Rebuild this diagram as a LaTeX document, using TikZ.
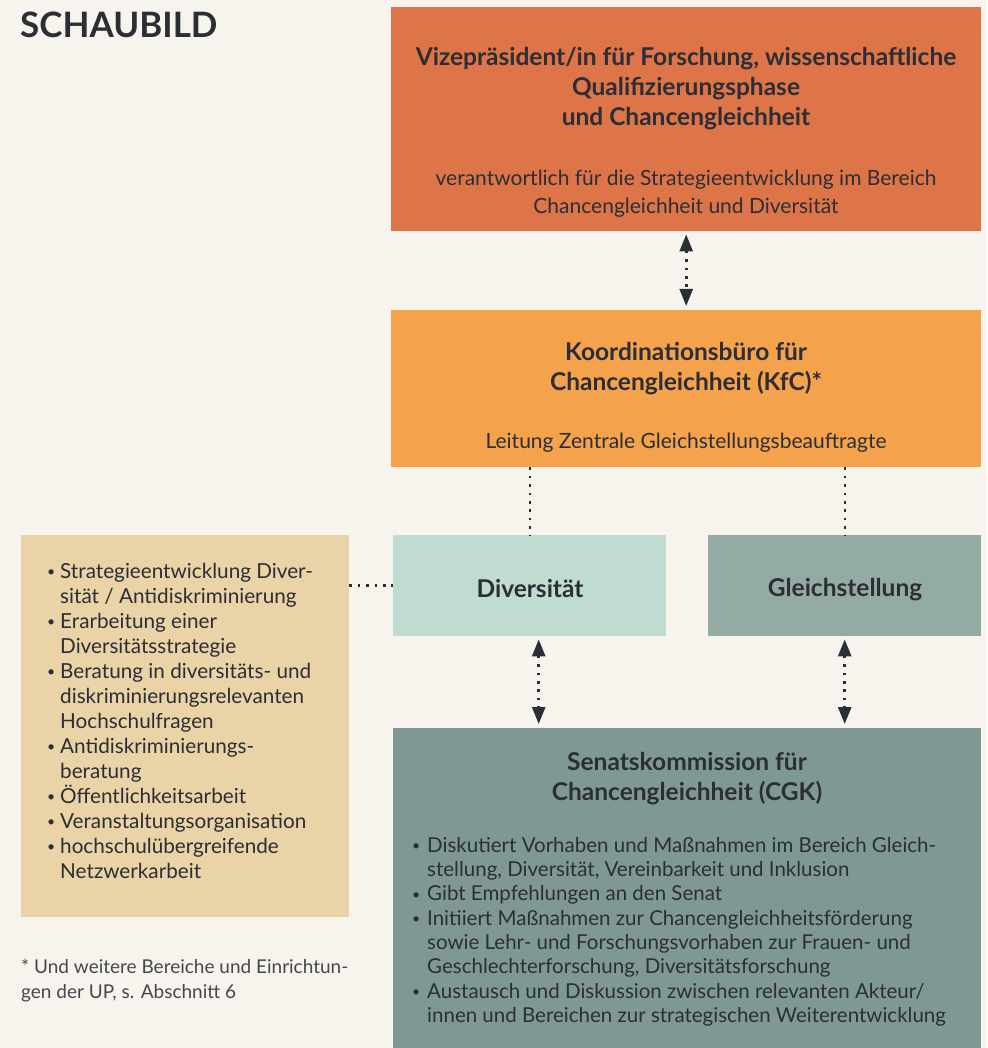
\documentclass[tikz,border=0pt]{standalone}
\usepackage{fontspec}
\setmainfont{Lato}
\usetikzlibrary{arrows.meta}
\definecolor{bg}{HTML}{F7F4EE}
\definecolor{vizec}{HTML}{DE7549}
\definecolor{kfcc}{HTML}{F4A24B}
\definecolor{divc}{HTML}{C0DCD1}
\definecolor{gleichc}{HTML}{94ABA4}
\definecolor{leftc}{HTML}{EAD3A6}
\definecolor{senatc}{HTML}{7F9893}
\definecolor{ink}{HTML}{2B2E35}
\definecolor{footc}{HTML}{45474C}
\newcommand{\smbul}{\raisebox{1.5pt}{\fontsize{14}{14}\selectfont\textbullet}}
\newcommand{\bul}{\makebox[13pt][l]{\smbul}}
\newcommand{\ind}{\hspace*{13pt}}
\newcommand{\sbul}{\makebox[15pt][l]{\smbul}}
\newcommand{\sind}{\hspace*{15pt}}
\tikzset{
  box/.style={draw=none, anchor=north west, inner sep=0pt},
  ttl/.style={text=ink, align=center, inner sep=0pt, font=\bfseries\fontsize{24.5}{30}\selectfont},
  sub/.style={text=ink, align=center, inner sep=0pt, font=\fontsize{21}{28}\selectfont},
  lst/.style={text=ink, align=left, anchor=north west, inner sep=0pt, font=\fontsize{20.7}{25}\selectfont},
  dotline/.style={ink, line width=2.6pt, dash pattern=on 2.6pt off 5.8pt},
  dotarrow/.style={ink, line width=2.6pt, dash pattern=on 2.6pt off 5.8pt,
     {Triangle[width=13pt,length=17pt]}-{Triangle[width=13pt,length=17pt]}, shorten <=3pt, shorten >=4pt}
}
\begin{document}
\begin{tikzpicture}[x=1pt,y=-1pt]
\path[fill=bg] (0,0) rectangle (987,1048);
\useasboundingbox (0,0) rectangle (987,1048);

% title
\node[anchor=west, inner sep=0pt, text=ink, font=\bfseries\fontsize{35}{38}\selectfont] (title) at (20,25) {SCHAUBILD};

% boxes
\node[box, fill=vizec, minimum width=590pt, minimum height=224pt] (vize) at (391,7) {};
\node[box, fill=kfcc, minimum width=590pt, minimum height=157pt] (kfc) at (391,310) {};
\node[box, fill=divc, minimum width=273pt, minimum height=101pt] (div) at (393,535) {};
\node[box, fill=gleichc, minimum width=273pt, minimum height=101pt] (gleich) at (708,535) {};
\node[box, fill=leftc, minimum width=328pt, minimum height=382pt] (left) at (21,535) {};
\node[box, fill=senatc, minimum width=588pt, minimum height=330pt] (senat) at (393,728) {};

% texts
\node[ttl] (vizet) at (686,89) {Vizepräsident/in für Forschung, wissenschaftliche\\Qualifizierungsphase\\und Chancengleichheit};
\node[sub] (vizes) at (686,194) {verantwortlich für die Strategieentwicklung im Bereich\\Chancengleichheit und Diversität};

\node[ttl] (kfct) at (686,369) {Koordinationsbüro für\\Chancengleichheit (KfC)*};
\node[sub] (kfcs) at (686,443) {Leitung Zentrale Gleichstellungsbeauftragte};

\node[ttl] (divt) at (530,589) {Diversität};
\node[ttl] (gleicht) at (845,590) {Gleichstellung};

\node[ttl] (senatt) at (687,779) {Senatskommission für\\Chancengleichheit (CGK)};

\node[lst] (leftl) at (47,563) {\bul Strategieentwicklung Diver-\\
\ind sität / Antidiskriminierung\\
\bul Erarbeitung einer\\
\ind Diversitätsstrategie\\
\bul Beratung in diversitäts- und\\
\ind diskriminierungsrelevanten\\
\ind Hochschulfragen\\
\bul Antidiskriminierungs-\\
\ind beratung\\
\bul Öffentlichkeitsarbeit\\
\bul Veranstaltungsorganisation\\
\bul hochschulübergreifende\\
\ind Netzwerkarbeit};

\node[lst, font=\fontsize{20.5}{24.3}\selectfont] (senatl) at (412,837) {\sbul Diskutiert Vorhaben und Maßnahmen im Bereich Gleich-\\
\sind stellung, Diversität, Vereinbarkeit und Inklusion\\
\sbul Gibt Empfehlungen an den Senat\\
\sbul Initiiert Maßnahmen zur Chancengleichheitsförderung\\
\sind sowie Lehr- und Forschungsvorhaben zur Frauen- und\\
\sind Geschlechterforschung, Diversitätsforschung\\
\sbul Austausch und Diskussion zwischen relevanten Akteur/\\
\sind innen und Bereichen zur strategischen Weiterentwicklung};

\node[lst, text=footc, font=\fontsize{19}{25}\selectfont] (foot) at (21,959) {* Und weitere Bereiche und Einrichtun-\\gen der UP, s. Abschnitt 6};

% connectors
\draw[dotarrow] (vize.south) -- (kfc.north);
\draw[dotline] (kfc.south -| divt.north) -- (div.north -| divt.north);
\draw[dotline] (kfc.south -| gleicht.north) -- (gleich.north -| gleicht.north);
\draw[dotline] (left.east |- div.west) -- (div.west);
\coordinate (da) at ([xshift=9pt]div.south);
\draw[dotarrow] (da) -- (senat.north -| da);
\draw[dotarrow] (gleich.south) -- (senat.north -| gleich.south);
\end{tikzpicture}
\end{document}
